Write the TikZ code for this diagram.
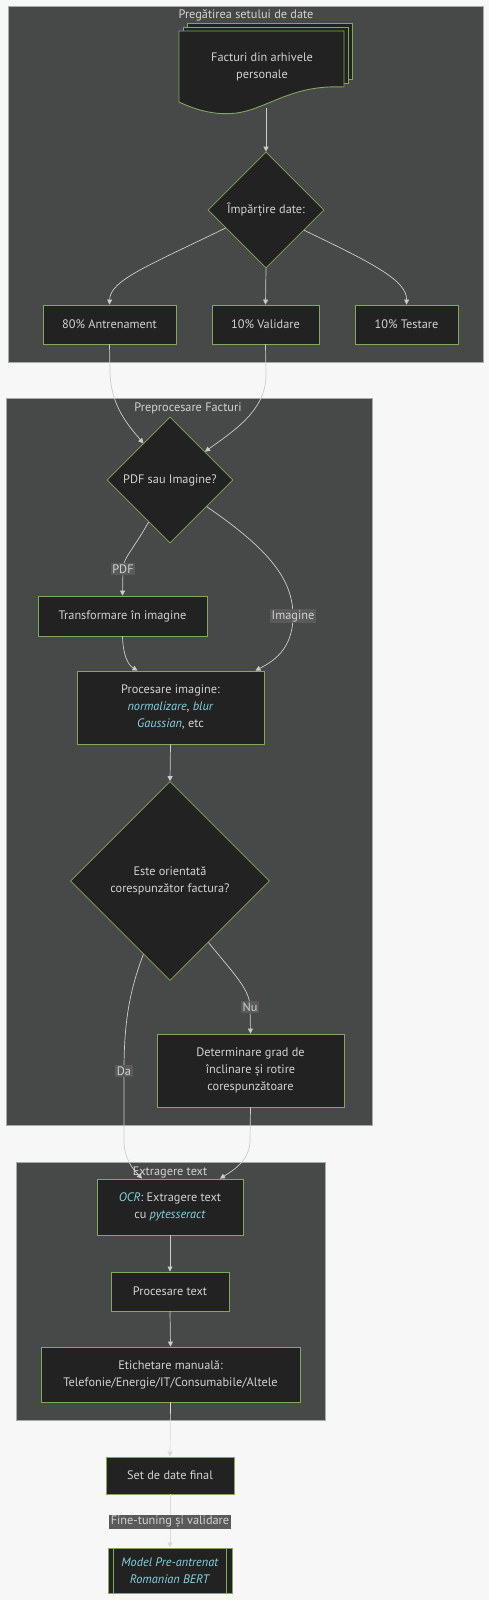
\documentclass[tikz,border=0pt]{standalone}
\usepackage{fontspec}
\setmainfont{PT Sans}
\usetikzlibrary{shapes.geometric,arrows.meta}
\definecolor{pagebg}{HTML}{F7F7F7}
\definecolor{clusterbg}{HTML}{474948}
\definecolor{clusterline}{HTML}{AAAAAA}
\definecolor{nodebg}{HTML}{222222}
\definecolor{nodeline}{HTML}{82A85A}
\definecolor{txt}{HTML}{D2D2D2}
\definecolor{hlc}{HTML}{86D3DE}
\definecolor{edgec}{HTML}{CCCCCC}
\definecolor{edgelight}{HTML}{DADADA}
\definecolor{lblbg}{HTML}{5A5A5A}
\newcommand\hlt[1]{\textcolor{hlc}{\textit{#1}}}
\tikzset{
  basefont/.style={font=\fontsize{12.3}{17}\selectfont, text=txt},
  procbox/.style={basefont, draw=nodeline, fill=nodebg, line width=0.9pt, rectangle, align=center, inner sep=0pt},
  decision/.style={basefont, draw=nodeline, fill=nodebg, line width=0.7pt, diamond, shape aspect=1, align=center, inner sep=0pt},
  cluster/.style={fill=clusterbg, draw=clusterline, line width=0.5pt},
  ctitle/.style={basefont, text=txt, inner sep=0pt},
  flow/.style={draw=edgec, line width=0.7pt, -{Triangle[length=5pt,width=5pt]}},
  flowlight/.style={draw=edgelight, line width=0.7pt, -{Triangle[length=5pt,width=5pt]}},
  elabel/.style={basefont, fill=lblbg, inner sep=1.5pt},
}
\begin{document}
\begin{tikzpicture}[x=1pt,y=-1pt]
\useasboundingbox (0,0) rectangle (489,1600);
\fill[pagebg] (0,0) rectangle (489,1600);

% clusters
\draw[cluster] (8,6) rectangle (483,362);
\draw[cluster] (6,398) rectangle (372,1125);
\draw[cluster] (16,1162) rectangle (325,1420);
\node[ctitle] (t1) at (246,15) {Pregătirea setului de date};
\node[ctitle] (t2) at (188,408) {Preprocesare Facturi};
\node[ctitle] (t3) at (170,1172) {Extragere text};

% document stack
\draw[fill=nodebg, draw=nodeline, line width=0.9pt] (187,23) rectangle (352,79);
\draw[fill=nodebg, draw=nodeline, line width=0.9pt] (183,27) rectangle (348,83);
\draw[fill=nodebg, draw=nodeline, line width=0.9pt]
  (179,31) -- (344,31) -- (344,87)
  .. controls (300,85) and (280,100) .. (250,110)
  .. controls (225,118) and (200,112) .. (179,102) -- cycle;
\node[basefont, align=center] (doc) at (262,67) {Facturi din arhivele\\personale};
\coordinate (docb) at (266,108);

% nodes
\node[decision, minimum width=116pt, minimum height=116pt] (D1) at (266,210) {Împărțire date:};
\node[procbox, minimum width=133pt, minimum height=39pt] (A80) at (109.5,324.5) {80\% Antrenament};
\node[procbox, minimum width=107pt, minimum height=39pt] (V10) at (265.5,324.5) {10\% Validare};
\node[procbox, minimum width=103pt, minimum height=39pt] (T10) at (406.5,324.5) {10\% Testare};

\node[decision, minimum width=126pt, minimum height=126pt] (D2) at (170,480) {PDF sau Imagine?};
\node[procbox, minimum width=169pt, minimum height=40pt] (Tr) at (122.5,616) {Transformare în imagine};
\node[procbox, minimum width=187pt, minimum height=73pt] (PI) at (170.5,707.5) {Procesare imagine:\\\hlt{normalizare}, \hlt{blur}\\\hlt{Gaussian}, etc};

\node[decision, minimum width=199pt, minimum height=199pt] (D3) at (170,881) {Este orientată\\corespunzător factura?};
\node[procbox, minimum width=187pt, minimum height=73pt] (Det) at (250.5,1070.5) {Determinare grad de\\înclinare și rotire\\corespunzătoare};

\node[procbox, minimum width=146pt, minimum height=56pt] (OCR) at (170,1207) {\hlt{OCR}: Extragere text\\cu \hlt{pytesseract}};
\node[procbox, minimum width=118pt, minimum height=39pt] (PT) at (170,1291.5) {Procesare text};
\node[procbox, minimum width=259pt, minimum height=55pt] (Et) at (170.5,1374.5) {Etichetare manuală:\\Telefonie/Energie/IT/Consumabile/Altele};

\node[procbox, minimum width=128pt, minimum height=37pt] (SF) at (170,1475.5) {Set de date final};
\node[procbox, minimum width=124pt, minimum height=45pt] (MB) at (170,1570.5) {\hlt{Model Pre-antrenat}\\\hlt{Romanian BERT}};
\draw[draw=nodeline, line width=0.9pt] ([xshift=6pt]MB.north west) -- ([xshift=6pt]MB.south west);
\draw[draw=nodeline, line width=0.9pt] ([xshift=-6pt]MB.north east) -- ([xshift=-6pt]MB.south east);

% edges
\draw[flow] (docb) -- (D1.north);
\draw[flow] (D1.204) .. controls (150,265) and (110,280) .. (A80.north);
\draw[flow] (D1.south) -- (V10.north);
\draw[flow] (D1.332) .. controls (370,262) and (407,280) .. (T10.north);

\draw[flow] (A80.south) -- (110,370) .. controls (110,405) and (128,425) .. (D2.126);
\draw[flow] (V10.south) -- (266,375) .. controls (266,410) and (235,430) .. (D2.39);

\draw[flow] (D2.243) .. controls (133,550) and (123,558) .. (123,569) -- (Tr.north);
\draw[flow] (D2.324) .. controls (270,550) and (293,580) .. (293,616) .. controls (293,650) and (272,662) .. ([xshift=-9pt]PI.north east);
\draw[flow] (Tr.south) .. controls (123,655) and (128,665) .. ([xshift=-33pt]PI.north);
\draw[flow] (PI.south) -- (D3.north);

\draw[flow] (D3.302) .. controls (235,975) and (250,990) .. (250,1007) -- (Det.north);
\draw[flow] (D3.250) .. controls (130,990) and (124,1020) .. (124,1071) -- (124,1140) .. controls (124,1160) and (134,1170) .. ([xshift=-28pt]OCR.north);
\draw[flow] (Det.south) -- (250,1140) .. controls (250,1160) and (234,1170) .. ([xshift=50pt]OCR.north);

\draw[flow] (OCR.south) -- (PT.north);
\draw[flow] (PT.south) -- (Et.north);
\draw[flowlight] (Et.south) -- (SF.north);
\draw[flowlight] (SF.south) -- (MB.north);

% edge labels
\node[elabel] (lpdf) at (123,569) {PDF};
\node[elabel] (limg) at (293,616) {Imagine};
\node[elabel] (lnu) at (250,1007) {Nu};
\node[elabel] (lda) at (124,1071) {Da};
\node[elabel] (lft) at (170,1522) {Fine-tuning și validare};
\end{tikzpicture}
\end{document}
